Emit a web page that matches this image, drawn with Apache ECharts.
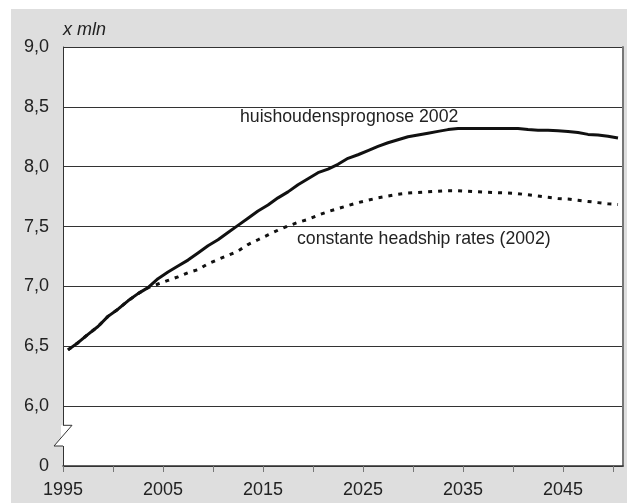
<!DOCTYPE html>
<html>
<head>
<meta charset="utf-8">
<script src="https://cdn.jsdelivr.net/npm/echarts@6/dist/echarts.min.js"></script>
<style>
  html, body { margin: 0; padding: 0; background: #fff; }
  #chart { position: absolute; left: 11px; top: 9px; width: 616px; height: 494px; }
</style>
</head>
<body>
<div id="chart"></div>
<script>
var years = [];
for (var y = 1995; y <= 2050; y++) years.push(y);

// huishoudensprognose 2002 (x mln)
var prognose = [
  6.47, 6.53, 6.60, 6.665, 6.75, 6.81, 6.88, 6.94, 6.99, 7.065,
  7.12, 7.17, 7.22, 7.28, 7.34, 7.39, 7.45, 7.51, 7.57, 7.63,
  7.68, 7.74, 7.79, 7.85, 7.90, 7.95, 7.98, 8.02, 8.07, 8.10,
  8.135, 8.17, 8.20, 8.225, 8.25, 8.265, 8.28, 8.295, 8.31, 8.32,
  8.32, 8.32, 8.32, 8.32, 8.32, 8.32, 8.31, 8.305, 8.305, 8.30,
  8.295, 8.285, 8.27, 8.265, 8.255, 8.24
];
// constante headship rates (2002)
var headship = [
  6.47, 6.53, 6.60, 6.665, 6.75, 6.81, 6.88, 6.94, 6.99, 7.02,
  7.05, 7.08, 7.115, 7.14, 7.19, 7.225, 7.26, 7.295, 7.35, 7.39,
  7.43, 7.47, 7.505, 7.535, 7.56, 7.595, 7.625, 7.65, 7.675, 7.70,
  7.72, 7.74, 7.755, 7.77, 7.78, 7.785, 7.79, 7.795, 7.80, 7.80,
  7.795, 7.79, 7.787, 7.783, 7.78, 7.775, 7.765, 7.755, 7.745, 7.735,
  7.73, 7.72, 7.71, 7.70, 7.69, 7.685
];

var tickYears = [1995, 2000, 2005, 2010, 2015, 2020, 2025, 2030, 2035, 2040, 2045, 2050];
var labelYears = [1995, 2005, 2015, 2025, 2035, 2045];
var yTicks = [5.5, 6.0, 6.5, 7.0, 7.5, 8.0, 8.5, 9.0]; // 5.5 is shown as the broken "0"

// each year is a band one unit wide; ticks sit on band starts
function pairs(vals) {
  return years.map(function(yr, i) { return [yr - 1995 + 0.5, vals[i]]; });
}

var font = 'Liberation Sans, Arial, sans-serif';
var ink = '#222';

var chart = echarts.init(document.getElementById('chart'), null, { renderer: 'canvas' });
chart.setOption({
  animation: false,
  backgroundColor: '#dedede',
  grid: { left: 52, top: 38, right: 4, bottom: 37, show: true, backgroundColor: '#fff', borderWidth: 0 },
  xAxis: {
    type: 'value',
    min: 0,
    max: years.length,
    axisLine: { show: true, lineStyle: { color: '#333', width: 1.5 } },
    axisTick: {
      show: true, length: 6, lineStyle: { color: '#777' },
      customValues: tickYears.map(function(v) { return v - 1995; })
    },
    axisLabel: {
      color: ink, fontSize: 18, fontFamily: font, margin: 15,
      customValues: labelYears.map(function(v) { return v - 1995; }),
      formatter: function(v) { return String(1995 + v); }
    },
    splitLine: { show: false }
  },
  yAxis: [{
    type: 'value',
    min: 5.5,
    max: 9.0,
    interval: 0.5,
    name: 'x mln',
    nameLocation: 'end',
    nameGap: 8,
    nameTextStyle: { align: 'left', color: ink, fontSize: 18, fontStyle: 'italic', fontFamily: font },
    axisLine: { show: true, lineStyle: { color: '#333', width: 1 } },
    axisTick: { show: false },
    axisLabel: {
      color: ink, fontSize: 18, fontFamily: font, margin: 14,
      formatter: function(v) { return v === yTicks[0] ? '0' : v.toFixed(1).replace('.', ','); }
    },
    splitLine: { show: true, lineStyle: { color: '#333', width: 1 } }
  }, {
    type: 'value',
    min: 5.5,
    max: 9.0,
    interval: 0.5,
    position: 'right',
    axisLine: { show: true, lineStyle: { color: '#777', width: 2 } },
    axisTick: { show: false },
    axisLabel: { show: false },
    splitLine: { show: false }
  }],
  series: [{
    name: 'huishoudensprognose 2002',
    type: 'line',
    data: pairs(prognose),
    symbol: 'none',
    lineStyle: { color: '#111', width: 3 },
    z: 3
  }, {
    name: 'constante headship rates (2002)',
    type: 'line',
    data: pairs(headship),
    symbol: 'none',
    lineStyle: { color: '#111', width: 3, type: [4, 6] },
    z: 4
  }]
});

// axis break on the y axis plus series captions
var ax = chart.convertToPixel({ xAxisIndex: 0 }, 0);
var y1 = chart.convertToPixel({ yAxisIndex: 0 }, 5.84);
var y2 = chart.convertToPixel({ yAxisIndex: 0 }, 5.667);
chart.setOption({
  graphic: [
    { type: 'rect', z: 100, shape: { x: ax - 2, y: y1, width: 4, height: y2 - y1 }, style: { fill: '#fff' } },
    { type: 'polygon', z: 100, shape: { points: [[ax, y1], [ax + 9, y1], [ax - 9, y2], [ax, y2]] }, style: { fill: '#fff' } },
    { type: 'polyline', z: 101, shape: { points: [[ax, y1], [ax + 9, y1], [ax - 9, y2], [ax, y2]] }, style: { stroke: '#333', lineWidth: 1, fill: null } },
    { type: 'text', z: 101, left: 229, top: 99, style: { text: 'huishoudensprognose 2002', fill: ink, font: '17.7px ' + font } },
    { type: 'text', z: 101, left: 286, top: 221, style: { text: 'constante headship rates (2002)', fill: ink, font: '17.7px ' + font } }
  ]
});
window.addEventListener('resize', function() { chart.resize(); });
</script>
</body>
</html>
